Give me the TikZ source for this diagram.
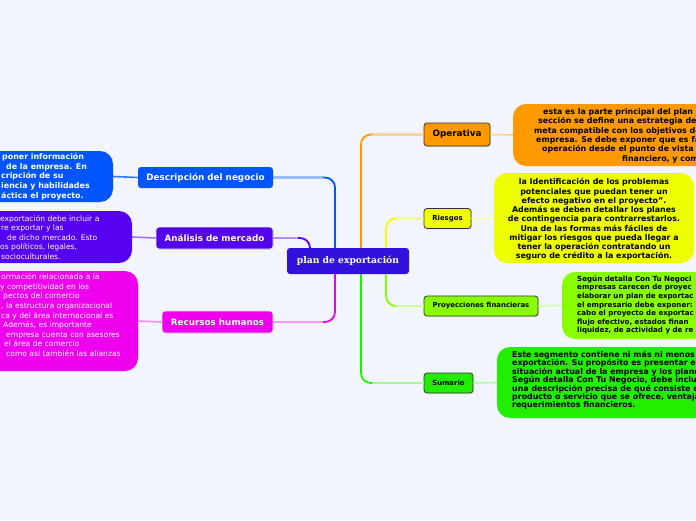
\documentclass[tikz,border=0pt]{standalone}
\usepackage{fontspec}
\setmainfont{DejaVu Sans}
\newfontfamily\headserif{DejaVu Serif}
\usetikzlibrary{shadows}
\definecolor{bg}{HTML}{F2F5FD}
\definecolor{croot}{HTML}{3311DD}
\definecolor{cblue}{HTML}{0055FF}
\definecolor{cviol}{HTML}{5500EE}
\definecolor{cmag}{HTML}{EE00EE}
\definecolor{corange}{HTML}{FF9900}
\definecolor{cyellow}{HTML}{EEFF00}
\definecolor{clime}{HTML}{88FF00}
\definecolor{cgreen}{HTML}{22EE00}
\tikzset{
  conn/.style={line width=1.8pt, rounded corners=10pt},
  fadeseg/.style={line width=1.8pt},
  subconn/.style={line width=1.6pt},
  rnode/.style={draw=black!80, line width=0.8pt, rounded corners=3pt, inner sep=0pt,
    font=\bfseries\fontsize{6.9}{8}\selectfont, text=black,
    drop shadow={opacity=0.25, shadow xshift=0.8pt, shadow yshift=-0.8pt}},
  lnode/.style={rounded corners=3pt, inner sep=0pt, text=white,
    font=\bfseries\fontsize{8.8}{10}\selectfont},
  tbox/.style={rounded corners=13pt, inner sep=0pt},
  ttext/.style={inner sep=0pt, align=left, anchor=north west}
}
\begin{document}
\begin{tikzpicture}[x=1pt,y=-1pt]
\useasboundingbox (0,0) rectangle (696,520);
\clip (0,0) rectangle (696,520);
\fill[bg] (0,0) rectangle (696,520);

% root
\node[fill=croot, rounded corners=3pt, minimum width=122pt, minimum height=26pt, inner sep=0pt,
  text=white, font=\headserif\bfseries\fontsize{9.2}{11}\selectfont] (root) at (348,261) {plan de exportación};

% x positions of branch trunks
\coordinate (xa) at (361,0);
\coordinate (xb) at (386,0);
\coordinate (xc) at (335,0);
\coordinate (xd) at (310,0);

% right main nodes
\node[rnode, fill=corange, minimum width=66pt, minimum height=23pt, font=\bfseries\fontsize{8.8}{10}\selectfont] (oper) at (457,134.5) {Operativa};
\node[rnode, fill=cyellow, minimum width=47pt, minimum height=20pt] (ries) at (447.5,218.5) {Riesgos};
\node[rnode, fill=clime, minimum width=114pt, minimum height=20pt] (proy) at (481,306) {Proyecciones financieras};
\node[rnode, fill=cgreen, minimum width=49pt, minimum height=20pt] (suma) at (448.5,383) {Sumario};

% left main nodes
\node[lnode, fill=cblue, minimum width=135pt, minimum height=21pt] (desc) at (205.5,177.5) {Descripción del negocio};
\node[lnode, fill=cviol, draw=white!85!gray, line width=0.8pt, minimum width=117pt, minimum height=22pt,
  drop shadow={opacity=0.2, shadow xshift=0.8pt, shadow yshift=-0.8pt}] (anal) at (214.5,238) {Análisis de mercado};
\node[lnode, fill=cmag, draw=white!85!gray, line width=0.8pt, minimum width=111pt, minimum height=22pt,
  drop shadow={opacity=0.2, shadow xshift=0.8pt, shadow yshift=-0.8pt}] (recu) at (217.5,322) {Recursos humanos};

% text boxes
\node[tbox, fill=corange, minimum width=287pt, minimum height=62pt] (boxo) at (656.5,135) {};
\node[tbox, fill=cyellow, minimum width=200pt, minimum height=90pt] (boxy) at (594,218) {};
\node[tbox, fill=clime, minimum width=238pt, minimum height=67pt] (boxl) at (681,305.5) {};
\node[tbox, fill=cgreen, minimum width=303pt, minimum height=71pt] (boxg) at (648.5,382.5) {};
\node[tbox, fill=cblue, minimum width=213pt, minimum height=51pt] (boxb) at (6.5,176.5) {};
\node[tbox, fill=cviol, minimum width=232pt, minimum height=52pt] (boxv) at (16,237) {};
\node[tbox, fill=cmag, minimum width=238pt, minimum height=100pt] (boxm) at (19,321) {};

% branch connectors
\draw[conn, corange] (root.north -| xa) |- (oper.west);
\draw[fadeseg, corange!40] ([xshift=-52pt]oper.west) -- (oper.west);
\draw[conn, cyellow] (root.north -| xb) |- (ries.west);
\draw[fadeseg, cyellow!40] ([xshift=-28pt]ries.west) -- (ries.west);
\draw[conn, clime] (root.south -| xb) |- (proy.west);
\draw[fadeseg, clime!40] ([xshift=-28pt]proy.west) -- (proy.west);
\draw[conn, cgreen] (root.south -| xa) |- (suma.west);
\draw[fadeseg, cgreen!40] ([xshift=-52pt]suma.west) -- (suma.west);
\draw[conn, cblue] (root.north -| xc) |- (desc.east);
\draw[fadeseg, cblue!40] ([xshift=50pt]desc.east) -- (desc.east);
\draw[conn, cviol] (root.north -| xd) |- (anal.east);
\draw[fadeseg, cviol!45] ([xshift=25pt]anal.east) -- (anal.east);
\draw[conn, cmag] (root.south -| xc) |- (recu.east);
\draw[fadeseg, cmag!40] ([xshift=50pt]recu.east) -- (recu.east);

% sub connectors
\draw[subconn, corange!45] (oper.east) -- (boxo.west);
\draw[subconn, cyellow!35] (ries.east) -- (boxy.west);
\draw[subconn, clime!35] (proy.east) -- (boxl.west);
\draw[subconn, cgreen!35] (suma.east) -- (boxg.west);
\draw[subconn, cblue!80] (desc.west) -- (boxb.east);
\draw[subconn, cviol!55] (anal.west) -- (boxv.east);
\draw[subconn, cmag!45] (recu.west) -- (boxm.east);

% texts
\node[ttext, text=white, font=\bfseries\fontsize{7.9}{9.7}\selectfont] (tb) at (1,153) {%
\hspace*{1pt}poner información\\
\hspace*{5pt}de la empresa. En\\
cripción de su\\
iencia y habilidades\\
áctica el proyecto.};

\node[ttext, text=white, font=\fontsize{7.6}{9.5}\selectfont] (tv) at (0,215) {%
exportación debe incluir a\\
\hspace*{1pt}re exportar y las\\
\hspace*{7pt}de dicho mercado. Esto\\
os políticos, legales,\\
\hspace*{1pt}socioculturales.};

\node[ttext, text=white, font=\fontsize{7.6}{9.6}\selectfont] (tm) at (0,273.5) {%
\hspace*{1pt}ormación relacionada a la\\
y competitividad en los\\
\hspace*{3pt}pectos del comercio\\
\hspace*{1pt}, la estructura organizacional\\
\hspace*{1pt}ca y del área internacional es\\
\hspace*{3pt}Además, es importante\\
\hspace*{6pt}empresa cuenta con asesores\\
\hspace*{4pt}el área de comercio\\
\hspace*{6pt}como así también las alianzas};

\node[ttext, text=black, font=\bfseries\fontsize{7.9}{9.4}\selectfont] (to) at (534,108) {%
\hspace*{9pt}esta es la parte principal del plan\\
\hspace*{4pt}sección se define una estrategia de\\
meta compatible con los objetivos de\\
\hspace*{2pt}empresa. Se debe exponer que es fa\\
\hspace*{8pt}operación desde el punto de vista\\
\hspace*{88pt}financiero, y com};

\node[inner sep=0pt, align=center, text=black, font=\bfseries\fontsize{7.9}{9.25}\selectfont] (ty) at (594,219.5) {%
la Identificación de los problemas\\
potenciales que puedan tener un\\
efecto negativo en el proyecto”.\\
Además se deben detallar los planes\\
de contingencia para contrarrestarlos.\\
Una de las formas más fáciles de\\
mitigar los riesgos que pueda llegar a\\
tener la operación contratando un\\
seguro de crédito a la exportación.};

\node[ttext, text=black, font=\bfseries\fontsize{7.1}{8.6}\selectfont] (tl) at (577,275.5) {%
Según detalla Con Tu Negoci\\
empresas carecen de proyec\\
elaborar un plan de exportac\\
el empresario debe exponer:\\
cabo el proyecto de exportac\\
flujo efectivo, estados finan\\
liquidez, de actividad y de re};

\node[ttext, text=black, font=\bfseries\fontsize{7.9}{8.4}\selectfont] (tg) at (512,351) {%
Este segmento contiene ni más ni menos\\
exportación. Su propósito es presentar en\\
situación actual de la empresa y los plane\\
Según detalla Con Tu Negocio, debe inclu\\
una descripción precisa de qué consiste e\\
producto o servicio que se ofrece, ventaja\\
requerimientos financieros.};
\end{tikzpicture}
\end{document}
